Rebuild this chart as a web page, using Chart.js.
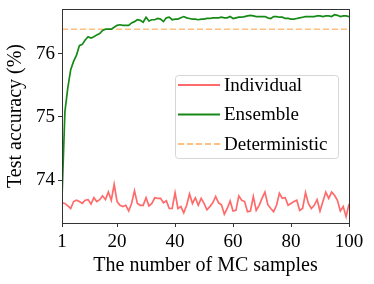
<!DOCTYPE html>
<html>
<head>
<meta charset="utf-8">
<script src="https://cdn.jsdelivr.net/npm/chart.js@4.4.1/dist/chart.umd.min.js"></script>
<style>
  html, body { margin: 0; padding: 0; background: #fff; }
  #wrap { width: 374px; height: 284px; }
</style>
</head>
<body>
<div id="wrap"><canvas id="myChart" width="374" height="284"></canvas></div>
<script>
// number of MC samples (x axis)
const samples = Array.from({ length: 100 }, (_, i) => i + 1);
const xTicks = [1, 20, 40, 60, 80, 100];
const yTicks = [74, 75, 76];

const individual = [
    73.64, 73.63, 73.59, 73.55, 73.66, 73.68, 73.66, 73.63, 73.68, 73.69,
    73.62, 73.72, 73.66, 73.69, 73.75, 73.69, 73.81, 73.68, 73.93, 73.66,
    73.60, 73.58, 73.60, 73.51, 73.63, 73.83, 73.63, 73.60, 73.60, 73.72,
    73.59, 73.63, 73.72, 73.71, 73.71, 73.64, 73.67, 73.55, 73.55, 73.80,
    73.55, 73.58, 73.48, 73.60, 73.78, 73.63, 73.72, 73.60, 73.71, 73.63,
    73.53, 73.58, 73.64, 73.74, 73.64, 73.61, 73.46, 73.55, 73.67, 73.51,
    73.52, 73.75, 73.68, 73.66, 73.50, 73.51, 73.74, 73.52, 73.60, 73.71,
    73.81, 73.61, 73.55, 73.50, 73.60, 73.79, 73.71, 73.72, 73.60, 73.63,
    73.66, 73.68, 73.52, 73.55, 73.80, 73.63, 73.55, 73.60, 73.69, 73.51,
    73.66, 73.81, 73.71, 73.81, 73.76, 73.68, 73.51, 73.58, 73.42, 73.62
];

const ensemble = [
    73.72, 75.08, 75.46, 75.75, 75.88, 75.98, 76.13, 76.15, 76.22, 76.27,
    76.25, 76.27, 76.30, 76.32, 76.37, 76.39, 76.39, 76.39, 76.42, 76.45,
    76.46, 76.45, 76.45, 76.45, 76.49, 76.51, 76.54, 76.53, 76.50, 76.58,
    76.52, 76.54, 76.54, 76.56, 76.55, 76.51, 76.57, 76.58, 76.54, 76.55,
    76.55, 76.57, 76.59, 76.57, 76.56, 76.55, 76.55, 76.54, 76.55, 76.55,
    76.56, 76.56, 76.57, 76.57, 76.57, 76.58, 76.57, 76.57, 76.59, 76.56,
    76.57, 76.58, 76.58, 76.59, 76.60, 76.61, 76.60, 76.59, 76.59, 76.59,
    76.59, 76.57, 76.56, 76.59, 76.59, 76.58, 76.58, 76.56, 76.56, 76.55,
    76.55, 76.56, 76.57, 76.58, 76.59, 76.59, 76.59, 76.59, 76.60, 76.60,
    76.59, 76.60, 76.60, 76.59, 76.62, 76.61, 76.59, 76.60, 76.60, 76.59
];

const deterministic = 76.39;

const serif = "'Liberation Serif', 'Times New Roman', serif";
const axisColor = '#333333';

const colors = {
    individual: '#ff6b6b',
    ensemble: '#168a16',
    deterministic: '#ffbf80'
};

// legend drawn inside the plot area, like matplotlib's
const legendBox = {
    id: 'legendBox',
    afterDatasetsDraw(chart) {
        const ctx = chart.ctx;
        const x = 175, y = 75, w = 163, h = 83;
        ctx.save();
        ctx.beginPath();
        ctx.roundRect(x + 0.5, y + 0.5, w, h, 3);
        ctx.fillStyle = 'rgba(255,255,255,0.85)';
        ctx.fill();
        ctx.strokeStyle = '#d6d6d6';
        ctx.lineWidth = 1;
        ctx.stroke();

        const rows = [
            { text: 'Individual', color: colors.individual, dash: [] },
            { text: 'Ensemble', color: colors.ensemble, dash: [] },
            { text: 'Deterministic', color: colors.deterministic, dash: [6, 3] }
        ];
        ctx.font = '19px ' + serif;
        ctx.textBaseline = 'middle';
        ctx.textAlign = 'left';
        rows.forEach((r, i) => {
            const ry = 85 + i * 29.5;
            ctx.beginPath();
            ctx.setLineDash(r.dash);
            ctx.strokeStyle = r.color;
            ctx.lineWidth = 2;
            ctx.moveTo(178, ry);
            ctx.lineTo(220, ry);
            ctx.stroke();
            ctx.setLineDash([]);
            ctx.fillStyle = '#000';
            ctx.fillText(r.text, 224, ry + 1);
        });
        ctx.restore();
    }
};

// box around the plot area
const frame = {
    id: 'frame',
    afterDraw(chart) {
        const a = chart.chartArea;
        const ctx = chart.ctx;
        ctx.save();
        ctx.strokeStyle = axisColor;
        ctx.lineWidth = 1;
        ctx.strokeRect(Math.round(a.left) + 0.5, Math.round(a.top) + 0.5,
            Math.round(a.right - a.left), Math.round(a.bottom - a.top));
        ctx.restore();
    }
};

const ctx = document.getElementById('myChart').getContext('2d');
new Chart(ctx, {
    type: 'line',
    data: {
        datasets: [
            {
                label: 'Individual',
                data: samples.map((s, i) => ({ x: s, y: individual[i] })),
                borderColor: colors.individual,
                borderWidth: 1.7,
                pointRadius: 0,
                tension: 0
            },
            {
                label: 'Ensemble',
                data: samples.map((s, i) => ({ x: s, y: ensemble[i] })),
                borderColor: colors.ensemble,
                borderWidth: 1.7,
                pointRadius: 0,
                tension: 0
            },
            {
                label: 'Deterministic',
                data: [
                    { x: samples[0], y: deterministic },
                    { x: samples[samples.length - 1], y: deterministic }
                ],
                borderColor: colors.deterministic,
                borderWidth: 1.6,
                borderDash: [6, 3],
                pointRadius: 0
            }
        ]
    },
    options: {
        responsive: false,
        animation: false,
        devicePixelRatio: 1,
        layout: { padding: { top: 9, right: 25, left: 0, bottom: 0 } },
        plugins: {
            legend: { display: false },
            tooltip: { enabled: false }
        },
        scales: {
            x: {
                type: 'linear',
                min: 1,
                max: 100,
                afterBuildTicks: (scale) => { scale.ticks = xTicks.map(v => ({ value: v })); },
                afterFit: (scale) => {
                    scale.height = 61;
                    scale.paddingLeft = 0;
                    scale.paddingRight = 0;
                },
                grid: { drawOnChartArea: false, tickLength: 4, color: axisColor },
                border: { color: axisColor },
                ticks: {
                    color: '#000',
                    font: { family: serif, size: 19 },
                    padding: 4,
                    maxRotation: 0,
                    autoSkip: false
                },
                title: {
                    display: true,
                    text: 'The number of MC samples',
                    color: '#000',
                    font: { family: serif, size: 20 },
                    padding: { top: 0, bottom: 6 }
                }
            },
            y: {
                min: 73.32,
                max: 76.71,
                afterBuildTicks: (scale) => { scale.ticks = yTicks.map(v => ({ value: v })); },
                afterFit: (scale) => {
                    scale.width = 62;
                    scale.paddingTop = 0;
                    scale.paddingBottom = 0;
                },
                grid: { drawOnChartArea: false, tickLength: 4, color: axisColor },
                border: { color: axisColor },
                ticks: {
                    color: '#000',
                    font: { family: serif, size: 19 },
                    padding: 3
                },
                title: {
                    display: true,
                    text: 'Test accuracy (%)',
                    color: '#000',
                    font: { family: serif, size: 20 },
                    padding: { top: 4, bottom: 0 }
                }
            }
        }
    },
    plugins: [legendBox, frame]
});
</script>
</body>
</html>
